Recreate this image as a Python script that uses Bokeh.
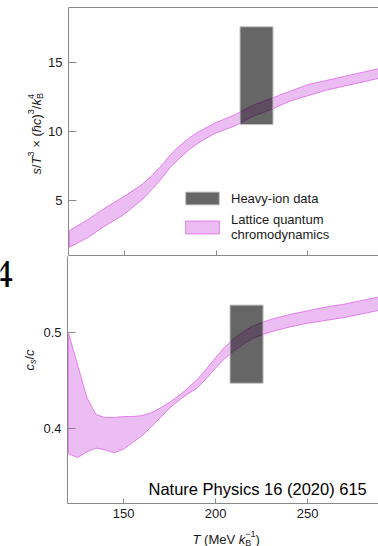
import math
from bokeh.plotting import figure
from bokeh.layouts import column, row
from bokeh.models import (Label, Legend, LegendItem, LinearAxis, FixedTicker,
                          Range1d)
from bokeh.embed import file_html
from bokeh.resources import INLINE

# ---------------- data ----------------
temperature_s = [120, 130, 140, 150, 160, 165, 170, 175, 180, 185, 190, 195,
                 200, 210, 220, 230, 240, 250, 260, 270, 280, 290]
entropy_upper = [2.8, 3.6, 4.5, 5.3, 6.2, 6.8, 7.5, 8.3, 8.95, 9.5, 9.95,
                 10.3, 10.65, 11.2, 11.9, 12.4, 12.9, 13.4, 13.7, 14.0, 14.3,
                 14.6]
entropy_lower = [1.6, 2.3, 3.2, 4.0, 5.1, 5.8, 6.55, 7.4, 8.05, 8.65, 9.15,
                 9.55, 9.9, 10.4, 11.1, 11.6, 12.2, 12.6, 13.0, 13.3, 13.6,
                 13.9]

temperature_cs = [120, 125, 130, 135, 140, 145, 150, 155, 160, 165, 170, 175,
                  180, 185, 190, 195, 200, 205, 210, 215, 220, 230, 240, 250,
                  260, 270, 280, 290]
cs_upper = [0.500, 0.466, 0.432, 0.414, 0.411, 0.411, 0.412, 0.412, 0.413,
            0.416, 0.421, 0.427, 0.434, 0.442, 0.451, 0.462, 0.474, 0.485,
            0.494, 0.501, 0.507, 0.514, 0.519, 0.523, 0.527, 0.530, 0.534,
            0.538]
cs_lower = [0.373, 0.369, 0.375, 0.379, 0.377, 0.374, 0.378, 0.385, 0.392,
            0.401, 0.411, 0.421, 0.429, 0.436, 0.442, 0.452, 0.463, 0.473,
            0.481, 0.488, 0.494, 0.501, 0.506, 0.510, 0.513, 0.516, 0.520,
            0.524]

heavy_ion_T_top = [213.0, 231.0]
heavy_ion_s = [10.5, 17.6]
heavy_ion_T_bottom = [207.8, 225.8]
heavy_ion_cs = [0.447, 0.529]

x_ticks = [150, 200, 250]
s_ticks = [5, 10, 15]
cs_ticks = [0.4, 0.5]

# ---------------- style ----------------
FONT = "Liberation Sans"
AXIS_GREY = "#8a8a8a"
TEXT = "#1a1a1a"
BAND_FILL = "#ebbdf2"
BAND_LINE = "#e47ded"

WIDTHS = {"s": 500, "/": 278, "T": 611, "3": 556, " ": 278, "×": 584,
          "(": 333, ")": 333, "ħ": 556, "c": 500, "k": 500, "B": 667,
          "4": 556, "M": 833, "e": 556, "V": 667, "−": 584, "1": 556}


def tw(txt, size):
    return sum(WIDTHS.get(ch, 556) for ch in txt) * size / 1000.0


def blank_fig(w, h):
    f = figure(width=w, height=h, x_range=Range1d(0, 1), y_range=Range1d(0, 1),
               x_axis_location=None, y_axis_location=None,
               output_backend="svg", toolbar_location=None, min_border=0)
    f.grid.visible = False
    f.outline_line_color = None
    return f


def style_axes(p):
    p.grid.visible = False
    p.outline_line_color = None
    for ax in p.xaxis + p.yaxis:
        ax.axis_line_color = AXIS_GREY
        ax.major_tick_line_color = AXIS_GREY
        ax.minor_tick_line_color = AXIS_GREY
        ax.major_tick_out = 0
        ax.minor_tick_out = 0
        ax.minor_tick_in = 0
        ax.major_label_text_font = FONT
        ax.major_label_text_font_size = "13px"
        ax.major_label_text_color = TEXT
    p.yaxis.major_tick_in = 8
    p.yaxis.major_label_standoff = 6


def add_pieces(p, pieces, x0, y0, rotated):
    """pieces: (text or None for a blank gap, style, size, shift, advance)"""
    pos = 0.0
    for txt, fstyle, size, shift, advance in pieces:
        if txt is not None:
            if rotated:
                x, y, ang = x0 - shift, y0 + pos, math.pi / 2
            else:
                x, y, ang = x0 + pos, y0 + shift, 0
            p.add_layout(Label(x=x, y=y, x_units="screen", y_units="screen",
                               angle=ang, text=txt, text_font=FONT,
                               text_font_style=fstyle,
                               text_font_size=f"{size}px", text_color=TEXT,
                               text_align="left", text_baseline="alphabetic"))
        if advance:
            pos += tw(txt if txt is not None else " ", size)


# ---------------- top panel ----------------
x_range = Range1d(119.5, 288.5)
p1 = figure(width=333, height=256, x_range=x_range, y_range=Range1d(1, 19),
            output_backend="svg", toolbar_location=None,
            min_border_left=22, min_border_right=0, min_border_top=7,
            min_border_bottom=1)
style_axes(p1)
p1.yaxis.ticker = FixedTicker(ticks=s_ticks)
# shared line with ticks only (minor ticks carry no labels)
p1.xaxis.ticker = FixedTicker(ticks=[], minor_ticks=x_ticks)
p1.xaxis.minor_tick_in = 5
p1.add_layout(LinearAxis(ticker=FixedTicker(ticks=[]),
                         axis_line_color=AXIS_GREY, major_tick_in=0,
                         major_tick_out=0, minor_tick_in=0, minor_tick_out=0,
                         major_label_standoff=0), "above")

band1 = p1.patch(x=temperature_s + temperature_s[::-1],
                 y=entropy_upper + entropy_lower[::-1],
                 fill_color=BAND_FILL, line_color=BAND_LINE, line_width=1)
box1 = p1.quad(left=[heavy_ion_T_top[0]], right=[heavy_ion_T_top[1]],
               bottom=[heavy_ion_s[0]], top=[heavy_ion_s[1]],
               fill_color="black", fill_alpha=0.6, line_color="#c4c4c4",
               line_width=1)

legend = Legend(items=[LegendItem(label="Heavy-ion data", renderers=[box1]),
                       LegendItem(label="Lattice quantum\nchromodynamics",
                                  renderers=[band1])],
                location=(113, 13), glyph_width=42, glyph_height=16,
                label_standoff=8, spacing=6, padding=0, margin=0,
                label_text_font=FONT, label_text_font_size="13px",
                label_text_color=TEXT, border_line_color=None,
                background_fill_alpha=0)
p1.add_layout(legend)

lab1 = blank_fig(45, 256)
# y label: s/T^3 x (hbar c)^3 / k_B^4
add_pieces(lab1, [("s", "italic", 13, 0, True), ("/", "normal", 13, 0, True),
                  ("T", "italic", 13, 0, True), ("3", "normal", 9, 6, True),
                  (None, "normal", 13, 0, True), ("×", "normal", 13, 0, True),
                  (None, "normal", 13, 0, True), ("(", "normal", 13, 0, True),
                  ("ħc", "italic", 13, 0, True),
                  (")", "normal", 13, 0, True), ("3", "normal", 9, 6, True),
                  ("/", "normal", 13, 0, True), ("k", "italic", 13, 0, True),
                  ("B", "normal", 9, -3, False), ("4", "normal", 9, 6, True)],
           x0=36, y0=81, rotated=True)

# ---------------- bottom panel ----------------
p2 = figure(width=338, height=267, x_range=x_range,
            y_range=Range1d(0.3208, 0.58),
            output_backend="svg", toolbar_location=None,
            min_border_left=27, min_border_right=0, min_border_top=0,
            min_border_bottom=20)
style_axes(p2)
p2.yaxis.ticker = FixedTicker(ticks=cs_ticks)
p2.xaxis.ticker = FixedTicker(ticks=x_ticks)
p2.xaxis.major_tick_in = 5
p2.xaxis.major_label_standoff = 5

p2.patch(x=temperature_cs + temperature_cs[::-1],
         y=cs_upper + cs_lower[::-1],
         fill_color=BAND_FILL, line_color=BAND_LINE, line_width=1)
p2.quad(left=[heavy_ion_T_bottom[0]], right=[heavy_ion_T_bottom[1]],
        bottom=[heavy_ion_cs[0]], top=[heavy_ion_cs[1]],
        fill_color="black", fill_alpha=0.6, line_color="#c4c4c4",
        line_width=1)

p2.add_layout(Label(x=81, y=15, x_units="screen", y_units="screen",
                    text="Nature Physics 16 (2020) 615", text_font=FONT,
                    text_font_size="16.5px", text_color="black",
                    text_baseline="alphabetic"))

lab2 = blank_fig(40, 267)
lab2.add_layout(Label(x=12.3, y=229.7, x_units="screen", y_units="screen",
                      text="4", text_font="Liberation Serif",
                      text_font_size="39px", text_color="black",
                      text_align="right", text_baseline="alphabetic"))
# y label: c_s / c
add_pieces(lab2, [("c", "italic", 13, 0, True), ("s", "italic", 9, -3, True),
                  ("/", "normal", 13, 0, True), ("c", "italic", 13, 0, True)],
           x0=29, y0=133, rotated=True)

xlab = blank_fig(378, 23)
# x label: T (MeV k_B^-1)
add_pieces(xlab, [("T", "italic", 13, 0, True),
                  (None, "normal", 13, 0, True),
                  ("(MeV", "normal", 13, 0, True),
                  (None, "normal", 13, 0, True),
                  ("k", "italic", 13, 0, True), ("B", "normal", 9, -3, False),
                  ("−1", "normal", 9, 6, True), (")", "normal", 13, 0, True)],
           x0=192, y0=7, rotated=False)

layout = column(row(lab1, p1), row(lab2, p2), xlab)

open("out.html", "w").write(file_html(layout, INLINE))
